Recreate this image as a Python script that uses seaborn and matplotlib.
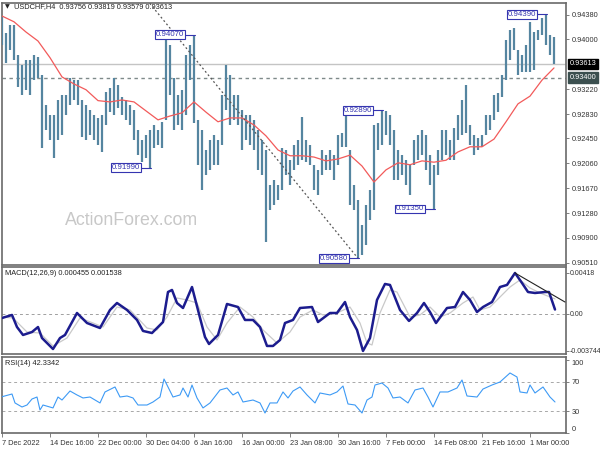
import numpy as np
import pandas as pd
import matplotlib
matplotlib.use("Agg")
import matplotlib.pyplot as plt
import matplotlib.transforms as mtransforms
import seaborn as sns

sns.set_theme(style="white")
plt.rcParams['font.family'] = ['Liberation Sans', 'DejaVu Sans']

# ---------------- data (H4 bars, resampled) ----------------
high = [
    0.9435, 0.9410, 0.9422, 0.9422, 0.9375, 0.9360, 0.9367, 0.9367, 0.9375, 0.9372,
    0.9344, 0.9297, 0.9282, 0.9282, 0.9305, 0.9313, 0.9313, 0.9339, 0.9336, 0.9336,
    0.9305, 0.9297, 0.9289, 0.9282, 0.9277, 0.9282, 0.9317, 0.9324, 0.9339, 0.9328,
    0.9310, 0.9305, 0.9297, 0.9289, 0.9258, 0.9243, 0.9250, 0.9258, 0.9266, 0.9258,
    0.9271, 0.9400, 0.9391, 0.9339, 0.9313, 0.9321, 0.9375, 0.9391, 0.9407, 0.9274,
    0.9258, 0.9227, 0.9243, 0.9250, 0.9243, 0.9313, 0.9360, 0.9344, 0.9313, 0.9313,
    0.9289, 0.9282, 0.9282, 0.9274, 0.9258, 0.9243, 0.9227, 0.9172, 0.9180, 0.9172,
    0.9230, 0.9227, 0.9211, 0.9235, 0.9243, 0.9278, 0.9243, 0.9235, 0.9204, 0.9196,
    0.9227, 0.9219, 0.9227, 0.9219, 0.9250, 0.9254, 0.9283, 0.9227, 0.9172, 0.9149,
    0.9110, 0.9141, 0.9165, 0.9266, 0.9269, 0.9289, 0.9288, 0.9282, 0.9258, 0.9227,
    0.9219, 0.9211, 0.9204, 0.9243, 0.9250, 0.9258, 0.9250, 0.9219, 0.9204, 0.9227,
    0.9258, 0.9258, 0.9243, 0.9261, 0.9282, 0.9305, 0.9328, 0.9266, 0.9250, 0.9246,
    0.9250, 0.9282, 0.9282, 0.9313, 0.9316, 0.9344, 0.9399, 0.9414, 0.9417, 0.9383,
    0.9375, 0.9391, 0.9427, 0.9411, 0.9414, 0.9433, 0.9439, 0.9406, 0.9403]
low = [
    0.9391, 0.9363, 0.9383, 0.9367, 0.9325, 0.9313, 0.9321, 0.9313, 0.9336, 0.9339,
    0.9230, 0.9258, 0.9243, 0.9215, 0.9243, 0.9250, 0.9282, 0.9297, 0.9305, 0.9297,
    0.9247, 0.9243, 0.9250, 0.9243, 0.9235, 0.9224, 0.9266, 0.9286, 0.9282, 0.9293,
    0.9282, 0.9274, 0.9266, 0.9243, 0.9219, 0.9208, 0.9215, 0.9199, 0.9230, 0.9235,
    0.9230, 0.9274, 0.9313, 0.9258, 0.9266, 0.9258, 0.9282, 0.9336, 0.9269, 0.9204,
    0.9165, 0.9188, 0.9196, 0.9204, 0.9204, 0.9235, 0.9289, 0.9266, 0.9274, 0.9266,
    0.9227, 0.9243, 0.9235, 0.9227, 0.9196, 0.9188, 0.9083, 0.9133, 0.9141, 0.9149,
    0.9165, 0.9188, 0.9172, 0.9196, 0.9204, 0.9211, 0.9208, 0.9204, 0.9165, 0.9157,
    0.9188, 0.9196, 0.9196, 0.9180, 0.9204, 0.9232, 0.9232, 0.9141, 0.9133, 0.9058,
    0.9063, 0.9079, 0.9118, 0.9133, 0.9227, 0.9235, 0.9250, 0.9235, 0.9180, 0.9180,
    0.9188, 0.9172, 0.9157, 0.9204, 0.9211, 0.9219, 0.9196, 0.9172, 0.9135, 0.9188,
    0.9211, 0.9219, 0.9211, 0.9211, 0.9243, 0.9250, 0.9254, 0.9235, 0.9219, 0.9227,
    0.9232, 0.9250, 0.9258, 0.9274, 0.9286, 0.9310, 0.9336, 0.9367, 0.9383, 0.9344,
    0.9349, 0.9349, 0.9349, 0.9352, 0.9399, 0.9406, 0.9391, 0.9375, 0.9361]

ma_vals = [0.9436, 0.9427, 0.9411, 0.9397, 0.9371, 0.9341, 0.9330, 0.9321, 0.9304, 0.9302,
           0.9305, 0.9302, 0.9288, 0.9274, 0.9280, 0.9285, 0.9302, 0.9286, 0.9271, 0.9277,
           0.9277, 0.9266, 0.9249, 0.9227, 0.9218, 0.9218, 0.9216, 0.9210, 0.9213, 0.9219,
           0.9202, 0.9177, 0.9196, 0.9207, 0.9204, 0.9210, 0.9208, 0.9211, 0.9224, 0.9232,
           0.9232, 0.9244, 0.9271, 0.9299, 0.9311, 0.9336, 0.9355]

macd_t = [0, 2.5, 3.75, 5.25, 7.5, 9, 10, 12.75, 14.5, 15.75, 18.75, 21.25, 24.5, 27, 28.75,
          31.25, 33.75, 35.25, 37.5, 40.25, 41.5, 42.5, 43.75, 45.25, 47.5, 50.75, 51.75, 54,
          56.25, 59, 60.75, 62.75, 64.5, 66.25, 67.75, 69.5, 70.75, 72.75, 74.5, 77.5, 79, 82,
          83.75, 85.75, 87, 88.75, 90.25, 92, 93.75, 95.75, 97, 99.5, 101.75, 103.75, 105.5,
          107, 108.5, 111.25, 113.25, 115.25, 117, 118.75, 120.25, 122.5, 124.5, 126.25,
          128.25, 130, 131.5, 133.25, 135.75, 136.75, 138.25]
macd_v = [-0.00041, -0.00010, -0.00133, -0.00214, -0.00184, -0.00133, -0.00245, -0.00357,
          -0.00245, -0.00214, 0.00010, -0.00092, -0.00143, 0.00041, 0.00112, 0.00041, -0.00061,
          -0.00173, -0.00194, -0.00082, 0.00224, 0.00245, 0.00112, 0.00061, 0.00275, -0.00235,
          -0.00306, -0.00214, 0.00102, 0.00071, -0.00061, -0.00061, -0.00133, -0.00326,
          -0.00326, -0.00265, -0.00092, -0.00061, 0.00061, 0.00071, -0.00082, 0.00010, 0.00010,
          0.00122, -0.00031, -0.00163, -0.00377, -0.00245, 0.00143, 0.00306, 0.00296, 0.00041,
          -0.00071, 0.00010, 0.00112, 0.00020, -0.00092, 0.00061, 0.00071, 0.00224, 0.00143,
          0.00020, 0.00071, 0.00122, 0.00275, 0.00296, 0.00418, 0.00316, 0.00224, 0.00214,
          0.00224, 0.00224, 0.000455]
sig_t = [0, 2.75, 6.25, 9.5, 12.75, 16.25, 19.5, 22.75, 25.25, 28.75, 32, 36.25, 38.75, 41.25,
         43.75, 46.25, 48.75, 51.25, 53.75, 56.25, 59.5, 62.75, 65.25, 68.75, 72, 74.5, 77.75,
         80.25, 83.75, 87, 89.5, 91.25, 92.5, 94.5, 97, 98.75, 102, 104.5, 107, 109.5, 112,
         115.25, 117.75, 119.5, 122, 124.5, 127, 129.5, 132, 134.5, 138.25]
sig_v = [-0.00031, -0.00041, -0.00184, -0.00194, -0.00326, -0.00245, -0.00041, -0.00092,
         -0.00133, 0.00071, 0.00041, -0.00143, -0.00163, -0.00031, 0.00163, 0.00143, 0.00112,
         -0.00133, -0.00265, -0.00092, 0.00071, -0.00031, -0.00163, -0.00296, -0.00184,
         -0.00031, 0.00041, -0.00010, 0.00010, 0.00071, -0.00092, -0.00296, -0.00316, 0.00010,
         0.00245, 0.00224, -0.00031, -0.00010, 0.00071, -0.00031, 0.00010, 0.00112, 0.00173,
         0.00041, 0.00071, 0.00173, 0.00275, 0.00347, 0.00265, 0.00214, 0.001538]

rsi_t = [0, 2.5, 3.25, 5, 6.25, 7.5, 8.75, 9.5, 10.25, 12.75, 14, 15, 17, 18.75, 20.25, 22,
         24.5, 25.75, 28.25, 29.5, 31.25, 32.75, 34, 36.25, 37.75, 39.5, 40.5, 41.5, 42.75,
         44.5, 45.25, 46.5, 47.5, 48.75, 50.25, 52, 54.5, 56.25, 57.75, 59, 60.25, 62.75, 64.5,
         65.75, 67, 68.75, 70.25, 71.5, 72.75, 74.5, 76.25, 78.25, 79.5, 82, 83.75, 85.25,
         86.5, 88.25, 90, 91.25, 92.5, 93.25, 95, 96.5, 97.75, 99.5, 101.5, 103.25, 105.25,
         106.5, 107.75, 109.5, 111.5, 113.75, 115, 116.25, 118.75, 120.25, 122.5, 124.5, 127,
         128.75, 129.5, 131.25, 132, 133.25, 135.25, 137, 138.25]
rsi_v = [49.5, 53.2, 41.0, 35.5, 38.2, 46.4, 49.1, 31.4, 38.2, 34.2, 49.1, 45.0, 57.3, 51.9,
         47.8, 49.1, 41.0, 56.0, 62.8, 49.1, 50.5, 47.8, 38.2, 38.2, 42.3, 49.1, 73.7, 62.8,
         49.1, 51.9, 61.4, 49.1, 65.5, 47.8, 34.2, 41.0, 58.7, 61.4, 51.9, 56.0, 42.3, 45.0,
         41.0, 27.3, 41.0, 41.0, 56.0, 47.8, 57.3, 62.8, 51.9, 41.0, 54.6, 51.9, 56.0, 64.1,
         39.6, 38.2, 27.3, 45.0, 49.1, 65.5, 68.2, 61.4, 47.8, 49.1, 41.0, 58.7, 61.4, 49.1,
         35.5, 56.0, 56.0, 61.4, 72.3, 50.5, 49.1, 60.0, 65.5, 69.6, 81.9, 76.4, 56.0, 54.6,
         65.5, 54.6, 62.8, 49.1, 42.33]

price_ticks = [0.94380, 0.94000, 0.93220, 0.92830, 0.92450, 0.92060, 0.91670, 0.91280, 0.90900, 0.90510]
date_labels = ["7 Dec 2022", "14 Dec 16:00", "22 Dec 00:00", "30 Dec 04:00", "6 Jan 16:00",
               "16 Jan 00:00", "23 Jan 08:00", "30 Jan 16:00", "7 Feb 00:00", "14 Feb 08:00",
               "21 Feb 16:00", "1 Mar 00:00"]
peaks = [(37, 0.91990), (48, 0.94070), (89, 0.90580), (95, 0.92890), (108, 0.91350), (136, 0.94390)]
last_price = 0.93613
level_price = 0.93400
title = "USDCHF,H4  0.93756 0.93819 0.93579 0.93613"

# ---------------- layout ----------------
W, H = 600, 450
fig = plt.figure(figsize=(6, 4.5), dpi=100)
fig.patch.set_facecolor("white")


def rect(x0, y0, x1, y1):
    return [x0 / W, 1 - y1 / H, (x1 - x0) / W, (y1 - y0) / H]


ax1 = fig.add_axes(rect(2, 3, 566, 265))
ax2 = fig.add_axes(rect(2, 267, 566, 354))
ax3 = fig.add_axes(rect(2, 357, 566, 433))

FS = 5.3
TXT = "#333333"
SPINE = "#6a6a6a"
for ax in (ax1, ax2, ax3):
    ax.set_facecolor("white")
    ax.set_xlim(0, 141)
    for s in ax.spines.values():
        s.set_color(SPINE)
        s.set_linewidth(1.2)
    ax.yaxis.tick_right()
    ax.tick_params(axis="y", which="both", right=True, left=False, length=2.5, width=0.6,
                   color=SPINE, labelsize=FS, labelcolor=TXT, pad=1.5)
    ax.tick_params(axis="x", bottom=False, labelbottom=False)
    ax.grid(False)

# ---------------- main price panel ----------------
n = min(len(high), len(low))
idx = np.arange(n)
bars = pd.DataFrame({"i": idx, "high": high[:n], "low": low[:n]})
ax1.vlines(bars["i"], bars["low"], bars["high"], color="#5585a0", lw=1.6, zorder=3)

ma_t = np.arange(0, 3 * len(ma_vals), 3)
sns.lineplot(x=ma_t, y=ma_vals, ax=ax1, color="#f25a5a", lw=0.9, zorder=4)

ax1.set_ylim(0.90476, 0.94563)
ax1.set_yticks(price_ticks)
ax1.set_yticklabels([f"{v:.5f}" for v in price_ticks])
ax1.set_xlabel("")
ax1.set_ylabel("")

ax1.axhline(last_price, color="#c4c4c4", lw=1.0, zorder=1)
ax1.axhline(level_price, color="#7f8a8a", lw=1.0, ls=(0, (2.5, 2.5)), zorder=1)

trans1 = mtransforms.blended_transform_factory(ax1.transAxes, ax1.transData)
ax1.text(1.006, last_price, f"{last_price:.5f}", transform=trans1, ha="left", va="center",
         fontsize=FS, color="white", zorder=10, clip_on=False,
         bbox=dict(boxstyle="square,pad=0.25", fc="black", ec="black"))
ax1.text(1.006, level_price, f"{level_price:.5f}", transform=trans1, ha="left", va="center",
         fontsize=FS, color="white", zorder=10, clip_on=False,
         bbox=dict(boxstyle="square,pad=0.25", fc="#3b4f4f", ec="#3b4f4f"))

# diagonal dotted trend line
ax1.plot([36.25, 89.0], [0.9461, 0.9058], color="#555555", lw=0.9, ls=(0, (1.5, 2.0)), zorder=5)

# peak/trough labels
LAB = "#3535b0"
for i, p in peaks:
    ax1.plot([i - 2.4, i + 0.3], [p, p], color=LAB, lw=0.8, zorder=6)
    ax1.text(i - 2.4, p, f"{p:.5f}", ha="right", va="center", fontsize=FS + 0.4, color=LAB,
             zorder=7, bbox=dict(boxstyle="square,pad=0.12", fc="white", ec=LAB, lw=0.8))

ax1.text(0.006, 0.985, "\u25BC", transform=ax1.transAxes, ha="left", va="center",
         fontsize=4.5, color="#222222", family=["DejaVu Sans"])
ax1.text(0.021, 0.985, title, transform=ax1.transAxes, ha="left", va="center",
         fontsize=FS, color="#222222")
ax1.text(0.2305, 0.168, "ActionForex.com", transform=ax1.transAxes, ha="center", va="center",
         fontsize=12.8, color="#c8c8c8", zorder=0)

# ---------------- MACD panel ----------------
sns.lineplot(x=sig_t, y=sig_v, ax=ax2, color="#c9c9c9", lw=0.9, zorder=3)
sns.lineplot(x=macd_t, y=macd_v, ax=ax2, color="#1c1c8e", lw=1.8, zorder=4)
ax2.axhline(0, color="#a0a0a0", lw=0.7, ls=(0, (3, 3)), zorder=1)
ax2.plot([128.25, 140.75], [0.00418, 0.00122], color="#222222", lw=0.8, zorder=5)
ax2.set_ylim(-0.00408, 0.00479)
ax2.set_yticks([0.00418, 0.0, -0.003744])
ax2.set_yticklabels(["0.00418", "0.00", "-0.003744"])
ax2.tick_params(axis="y", labelsize=5.0, pad=0.8, length=2)
ax2.set_xlabel("")
ax2.set_ylabel("")
ax2.text(0.006, 0.92, "MACD(12,26,9) 0.000455 0.001538", transform=ax2.transAxes,
         ha="left", va="center", fontsize=FS, color="#222222")

# ---------------- RSI panel ----------------
sns.lineplot(x=rsi_t, y=rsi_v, ax=ax3, color="#3d9af5", lw=0.8, zorder=3)
ax3.axhline(70, color="#a8a8a8", lw=0.7, ls=(0, (3, 3)), zorder=1)
ax3.axhline(30, color="#a8a8a8", lw=0.7, ls=(0, (3, 3)), zorder=1)
ax3.set_ylim(0, 103.7)
ax3.set_yticks([100, 70, 30, 0])
ax3.set_yticklabels(["100", "70", "30", "0"])
for lab in ax3.get_yticklabels():
    if lab.get_text() == "100":
        lab.set_va("top")
    elif lab.get_text() == "0":
        lab.set_va("bottom")
ax3.set_ylabel("")
ax3.text(0.006, 0.908, "RSI(14) 42.3342", transform=ax3.transAxes,
         ha="left", va="center", fontsize=FS, color="#222222")

ax3.set_xticks(np.arange(0, 12 * len(date_labels), 12))
ax3.set_xticklabels(date_labels, ha="left")
ax3.tick_params(axis="x", bottom=True, labelbottom=True, length=3, width=0.6, color=SPINE,
                labelsize=FS, labelcolor=TXT, pad=2)
ax3.set_xlabel("")

fig.savefig("out.png", dpi=100, facecolor="white")
